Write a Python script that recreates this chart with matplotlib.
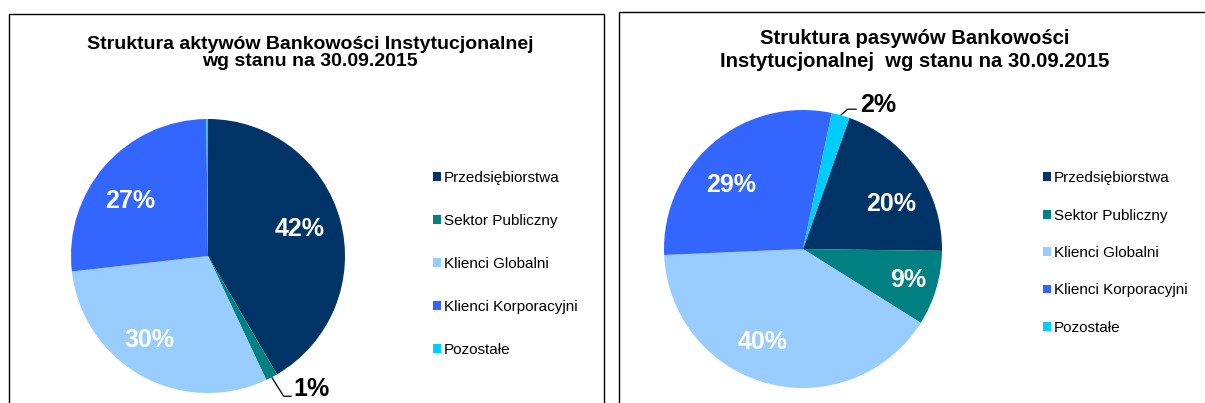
import matplotlib
matplotlib.use("Agg")
import matplotlib.pyplot as plt
import matplotlib.transforms as mtransforms
import numpy as np
from matplotlib.patches import Rectangle

plt.rcParams["font.family"] = ["Liberation Sans", "DejaVu Sans"]

W, H = 1205, 403

categories = ["Przedsiębiorstwa", "Sektor Publiczny", "Klienci Globalni",
              "Klienci Korporacyjni", "Pozostałe"]
aktywa = [41.6, 1.4, 30.2, 26.6, 0.2]
pasywa = [19.8, 8.7, 40.4, 29.0, 2.1]
COLORS = ["#003366", "#008080", "#99CCFF", "#3366FF", "#00CCFF"]

title_aktywa = "Struktura aktywów Bankowości Instytucjonalnej\nwg stanu na 30.09.2015"
title_pasywa = "Struktura pasywów Bankowości\nInstytucjonalnej  wg stanu na 30.09.2015"

# small pixel nudges (right, down) of the inside labels - Excel "best fit"
NUDGE_AKTYWA = [(-4, -1), (0, 0), (-10, -2), (-4, 10), (0, 0)]
NUDGE_PASYWA = [(6, 12), (9, 3), (-15, -4), (-7, 12), (0, 0)]


def px_box(cx, cy, r):
    return [(cx - r) / W, 1 - (cy + r) / H, 2 * r / W, 2 * r / H]


def pie_panel(fig, values, center, r, start, nudge, leader, small_off):
    ax = fig.add_axes(px_box(center[0], center[1], r))
    wedges, _, autotexts = ax.pie(
        values, colors=COLORS, startangle=start, counterclock=False,
        autopct=lambda p: f"{p:.0f}%" if p >= 5 else "", pctdistance=0.72,
        wedgeprops=dict(linewidth=0),
        textprops=dict(color="white", fontsize=18, fontweight="bold"))
    ax.set_xlim(-1, 1)
    ax.set_ylim(-1, 1)
    ax.axis("off")
    for t, (dx, dy) in zip(autotexts, nudge):
        t.set_transform(mtransforms.offset_copy(t.get_transform(), fig=fig,
                                                x=dx, y=-dy, units="dots"))
    # small slices get an outside label with a leader line (offsets in pixels)
    for w, v in zip(wedges, values):
        if 0.5 <= v < 5:
            th = np.radians((w.theta1 + w.theta2) / 2)
            x0, y0 = np.cos(th), np.sin(th)
            px = np.array([0] + [p[0] for p in leader])
            py = np.array([0] + [-p[1] for p in leader])
            base = ax.transData.transform((x0, y0))
            pts = ax.transData.inverted().transform(np.column_stack([base[0] + px, base[1] + py]))
            ax.plot(pts[:, 0], pts[:, 1], color="black", lw=0.9, clip_on=False,
                    solid_capstyle="butt")
            ax.annotate(f"{v:.0f}%", xy=(x0, y0),
                        xytext=(small_off[0], -small_off[1]), textcoords="offset pixels",
                        ha="left", va="baseline", fontsize=18, fontweight="bold",
                        color="black", annotation_clip=False)
    ax.set_xlim(-1, 1)
    ax.set_ylim(-1, 1)
    return wedges


fig = plt.figure(figsize=(W / 100, H / 100), dpi=100)

# panel frames
fig.add_artist(Rectangle((9 / W, -0.1), (604 - 9) / W, 0.1 + (H - 14) / H,
                         transform=fig.transFigure, fill=False, ec="black", lw=1.0))
fig.add_artist(Rectangle((619 / W, -0.1), 1.0, 0.1 + (H - 12) / H,
                         transform=fig.transFigure, fill=False, ec="black", lw=1.0))

w1 = pie_panel(fig, aktywa, (208, 256), 137, 90, NUDGE_AKTYWA,
               [(12, 19), (20, 19)], (22, 19))
w2 = pie_panel(fig, pasywa, (803, 249), 139, 70.5, NUDGE_PASYWA,
               [(7, -6), (16, -6)], (19, -3))

fig.text(310 / W, 1 - 53 / H, title_aktywa, ha="center", va="center",
         fontsize=14.0, fontweight="bold", linespacing=1.05)
fig.text(915 / W, 1 - 50 / H, title_pasywa, ha="center", va="center",
         fontsize=14.6, fontweight="bold", linespacing=1.22)

for wedges, x0, yc, sp in ((w1, 433, 264, 1.89), (w2, 1043, 253, 1.53)):
    fig.legend(wedges, categories, loc="center left",
               bbox_to_anchor=(x0 / W, 1 - yc / H), frameon=False, fontsize=11,
               handlelength=0.52, handleheight=0.52, handletextpad=0.2,
               labelspacing=sp, borderpad=0, borderaxespad=0)

fig.savefig("out.png", dpi=100, facecolor="white")
